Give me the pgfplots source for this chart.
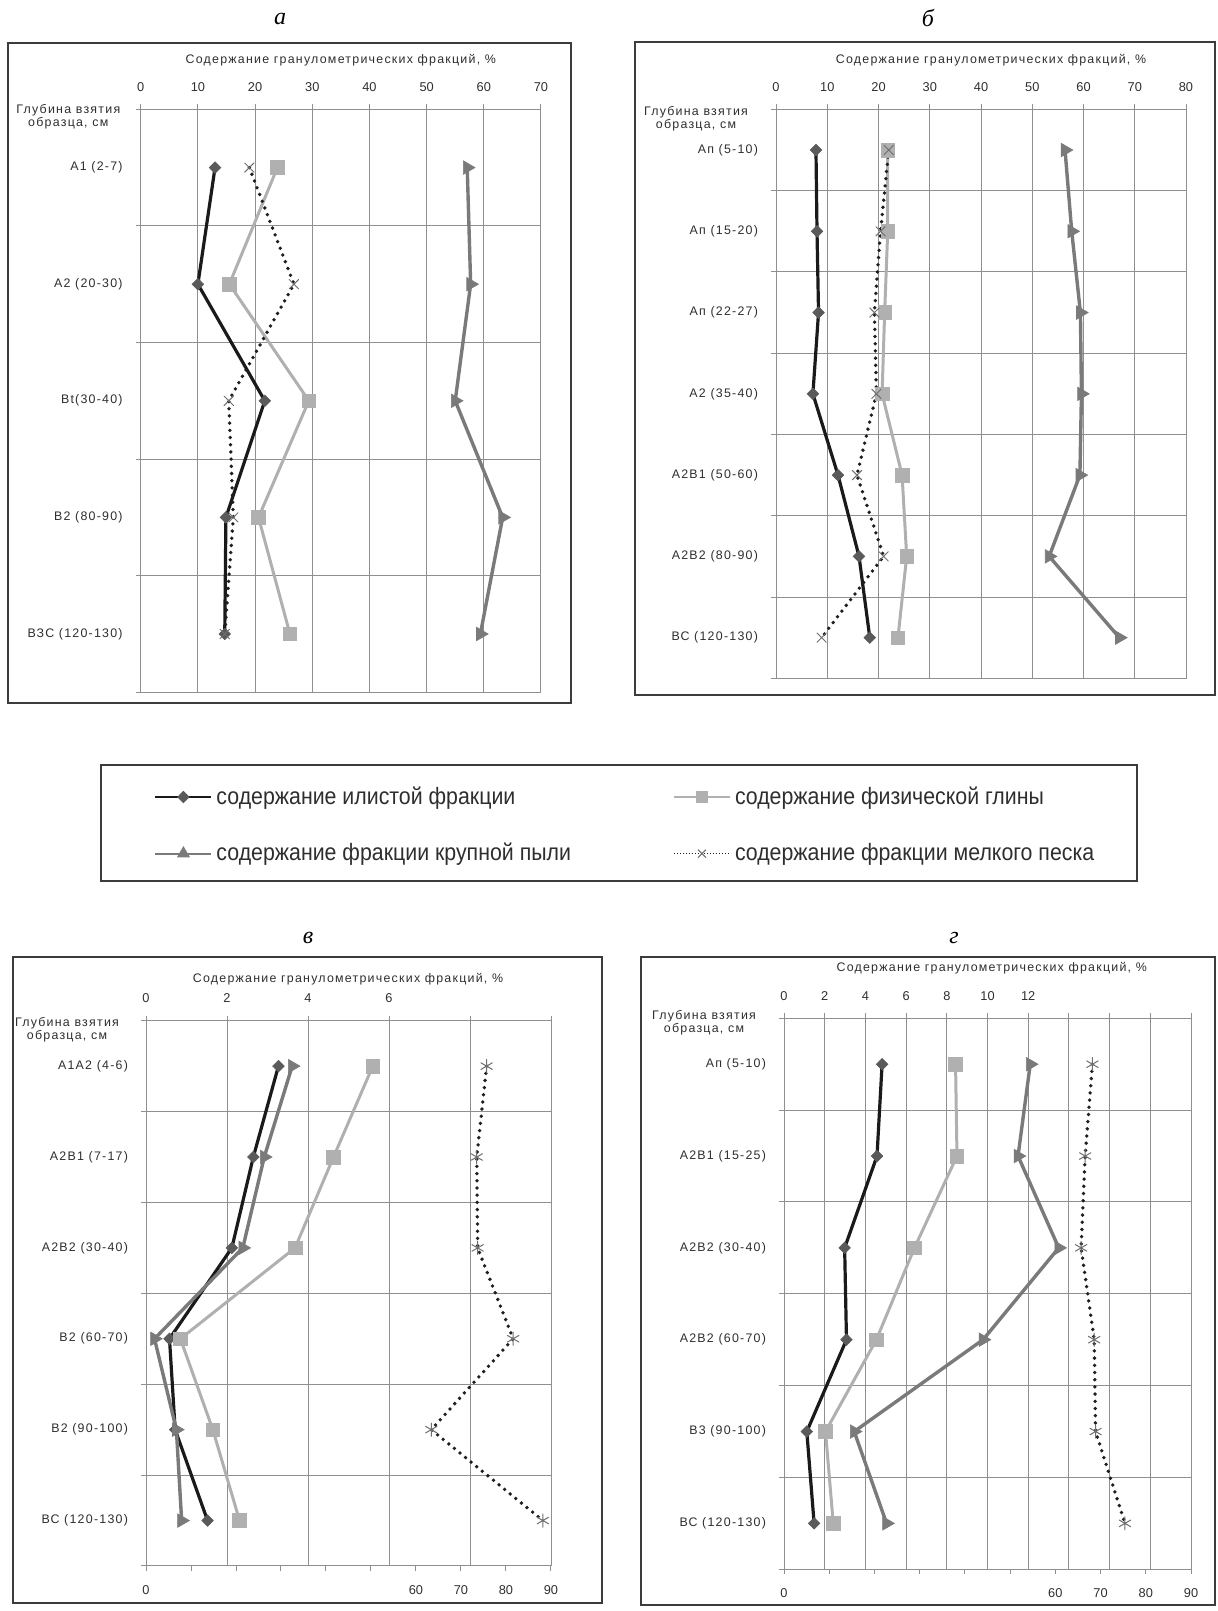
\documentclass[border=0pt]{standalone}
\usepackage{pgfplots}
\usepackage{pgfplotstable}
\pgfplotsset{compat=1.18}
\usepackage{fontspec}
\setmainfont{Liberation Sans}
\newfontfamily\chartfont[LetterSpace=10]{Liberation Sans}
\newfontfamily\numfont{Liberation Sans}
\newfontfamily\legendfont[FakeStretch=0.9]{Liberation Sans}
\newfontfamily\titlefont{Liberation Serif}
\definecolor{gridc}{HTML}{8F8F8F}
\definecolor{framec}{HTML}{3C3C3C}
\definecolor{labc}{HTML}{2E2E2E}
\definecolor{ilc}{HTML}{1A1A1A}
\definecolor{ilm}{HTML}{5A5A5A}
\definecolor{glc}{HTML}{B0B0B0}
\definecolor{pyc}{HTML}{7A7A7A}
\definecolor{pec}{HTML}{1E1E1E}
\definecolor{pem}{HTML}{6E6E6E}
\newcommand{\cf}{\chartfont\fontsize{6.2pt}{6.6pt}\selectfont}
\newcommand{\nf}{\numfont\fontsize{6.4pt}{7pt}\selectfont}

\pgfplotsset{
  panel/.style={
    scale only axis, anchor=north west, clip=false,
    axis line style={gridc, line width=0.5pt},
    grid style={gridc, line width=0.5pt},
    xmajorgrids, ymajorgrids,
    tick align=outside, major tick length=2.5pt,
    tick style={gridc, line width=0.5pt},
    xtick pos=right, xticklabel pos=right, ytick pos=left,
    y tick label as interval,
    xticklabel style={anchor=base, yshift=6.5pt, font=\nf, text=labc},
    yticklabel style={anchor=east, xshift=-3pt, font=\cf, text=labc},
    /pgf/number format/assume math mode=true,
  },
  botaxis/.style={
    scale only axis, anchor=north west, clip=false,
    xmin=0, xmax=90, axis x line*=bottom, hide y axis,
    axis line style={gridc, line width=0.5pt},
    x axis line style={-},
    tick align=outside, major tick length=2.5pt,
    tick style={gridc, line width=0.5pt},
    xtick={0,10,...,90}, xticklabels={0,{},{},{},{},{},60,70,80,90},
    xticklabel style={anchor=base, yshift=-11.7pt, font=\nf, text=labc},
  },
  il/.style={ilc, line width=1.6pt, mark=diamond*, mark size=2.9pt,
    mark options={fill=ilm, draw=ilm, line width=0.3pt, xscale=1.33}},
  gl/.style={glc, line width=1.5pt, mark=square*, mark size=3.4pt,
    mark options={fill=glc, draw=glc, line width=0.3pt}},
  py/.style={pyc, line width=1.7pt, mark=triangle*, mark size=3.9pt,
    mark options={fill=pyc, draw=pyc, line width=0.3pt, rotate=-90}},
  pe/.style={pec, line width=1.9pt, line cap=round, dash pattern=on 0pt off 3.6pt,
    mark=x, mark size=3.3pt, mark options={pem, solid, line width=0.5pt}},
  pes/.style={pec, line width=1.9pt, line cap=round, dash pattern=on 0pt off 3.6pt,
    mark=asterisk, mark size=3.3pt, mark options={pem, solid, line width=0.5pt}},
}

\pgfplotstableread{
y il gl py pe
4.5 13.0 23.9 57.1 19.0
3.5 10.0 15.5 57.7 26.8
2.5 21.7 29.4 55.0 15.4
1.5 14.9 20.6 63.3 16.2
0.5 14.7 26.1 59.4 14.7
}\dataA

\pgfplotstableread{
y il gl py pe
6.5 7.8 21.8 56.4 22.0
5.5 8.0 21.8 57.7 20.4
4.5 8.3 21.2 59.4 19.2
3.5 7.2 20.7 59.6 19.6
2.5 12.1 24.6 59.3 15.8
1.5 16.2 25.5 53.3 21.0
0.5 18.3 23.8 67.0 8.9
}\dataB

\pgfplotstableread{
y il gl py pe
5.5 3.27 5.60 3.61 75.7
4.5 2.65 4.63 2.92 73.5
3.5 2.12 3.68 2.39 73.7
2.5 0.58 0.85 0.21 81.6
1.5 0.72 1.65 0.75 63.4
0.5 1.52 2.31 0.88 88.2
}\dataV

\pgfplotstableread{
y il gl py pe
5.5 4.82 8.43 12.10 68.2
4.5 4.57 8.50 11.50 66.6
3.5 2.98 6.41 13.50 65.7
2.5 3.07 4.54 9.78 68.6
1.5 1.12 2.04 3.45 68.9
0.5 1.48 2.42 5.04 75.4
}\dataG

\begin{document}
\begin{tikzpicture}
\path[use as bounding box] (0,0) rectangle (609pt,805.5pt);

% frames
\draw[framec, line width=1pt] (3.75pt,454pt) rectangle (285.5pt,784pt);
\draw[framec, line width=1pt] (317.5pt,458pt) rectangle (607.5pt,784.5pt);
\draw[framec, line width=1pt] (6.35pt,4.15pt) rectangle (301pt,327pt);
\draw[framec, line width=1pt] (320.5pt,3pt) rectangle (607.5pt,327pt);
\draw[framec, line width=1pt] (50.5pt,365pt) rectangle (568.5pt,423pt);

% panel letters
\node[font=\titlefont\itshape\fontsize{12pt}{14pt}\selectfont] at (140pt,796.25pt) {а};
\node[font=\titlefont\itshape\fontsize{12pt}{14pt}\selectfont] at (464pt,796.25pt) {б};
\node[font=\titlefont\itshape\fontsize{12pt}{14pt}\selectfont] at (154pt,336.5pt) {в};
\node[font=\titlefont\itshape\fontsize{12pt}{14pt}\selectfont] at (477pt,336.5pt) {г};

% axis titles
\node[font=\cf, text=labc] at (170.4pt,775.5pt) {Содержание гранулометрических фракций, \%};
\node[font=\cf, text=labc] at (495.5pt,775.3pt) {Содержание гранулометрических фракций, \%};
\node[font=\cf, text=labc] at (174pt,316pt) {Содержание гранулометрических фракций, \%};
\node[font=\cf, text=labc] at (495.85pt,321.35pt) {Содержание гранулометрических фракций, \%};

% depth labels
\node[font=\cf, text=labc, align=center] at (34.15pt,747.2pt) {Глубина взятия\\образца, см};
\node[font=\cf, text=labc, align=center] at (348pt,746.25pt) {Глубина взятия\\образца, см};
\node[font=\cf, text=labc, align=center] at (33.5pt,290.6pt) {Глубина взятия\\образца, см};
\node[font=\cf, text=labc, align=center] at (352pt,294.1pt) {Глубина взятия\\образца, см};

% panel a
\begin{axis}[panel, at={(70.35pt,750.85pt)}, width=200.15pt, height=291.5pt,
  xmin=0, xmax=70, xtick={0,10,...,70}, ymin=0, ymax=5, ytick={0,...,5},
  yticklabels={ВЗС (120-130), В2 (80-90), Вt(30-40), А2 (20-30), А1 (2-7)}]
\addplot[il] table[x=il,y=y] {\dataA};
\addplot[gl] table[x=gl,y=y] {\dataA};
\addplot[py] table[x=py,y=y] {\dataA};
\addplot[pe] table[x=pe,y=y] {\dataA};
\end{axis}

% panel b
\begin{axis}[panel, at={(388pt,750.8pt)}, width=205pt, height=284.45pt,
  xmin=0, xmax=80, xtick={0,10,...,80}, ymin=0, ymax=7, ytick={0,...,7},
  yticklabels={ВС (120-130), А2В2 (80-90), А2В1 (50-60), А2 (35-40), Ап (22-27), Ап (15-20), Ап (5-10)}]
\addplot[il] table[x=il,y=y] {\dataB};
\addplot[gl] table[x=gl,y=y] {\dataB};
\addplot[py] table[x=py,y=y] {\dataB};
\addplot[pe] table[x=pe,y=y] {\dataB};
\end{axis}

% panel v
\begin{axis}[panel, at={(73pt,295.15pt)}, width=202.5pt, height=272.65pt,
  xmin=0, xmax=10, xtick={0,2,...,10}, xticklabels={0,2,4,6,{},{}},
  ymin=0, ymax=6, ytick={0,...,6},
  yticklabels={ВС (120-130), В2 (90-100), В2 (60-70), А2В2 (30-40), А2В1 (7-17), А1А2 (4-6)}]
\addplot[il] table[x=il,y=y] {\dataV};
\addplot[gl] table[x=gl,y=y] {\dataV};
\addplot[py] table[x=py,y=y] {\dataV};
\end{axis}
\begin{axis}[botaxis, at={(73pt,295.15pt)}, width=202.5pt, height=272.65pt, ymin=0, ymax=6]
\addplot[pes] table[x=pe,y=y] {\dataV};
\end{axis}

% panel g
\begin{axis}[panel, at={(392pt,296.35pt)}, width=203.5pt, height=275.5pt,
  xmin=0, xmax=20, xtick={0,2,...,20}, xticklabels={0,2,4,6,8,10,12,{},{},{},{}},
  ymin=0, ymax=6, ytick={0,...,6},
  yticklabels={ВС (120-130), В3 (90-100), А2В2 (60-70), А2В2 (30-40), А2В1 (15-25), Ап (5-10)}]
\addplot[il] table[x=il,y=y] {\dataG};
\addplot[gl] table[x=gl,y=y] {\dataG};
\addplot[py] table[x=py,y=y] {\dataG};
\end{axis}
\begin{axis}[botaxis, at={(392pt,296.35pt)}, width=203.5pt, height=275.5pt, ymin=0, ymax=6]
\addplot[pes] table[x=pe,y=y] {\dataG};
\end{axis}

% legend
\begin{axis}[hide axis, scale only axis, anchor=south west, at={(50.5pt,365pt)},
  width=518pt, height=58pt, xmin=0, xmax=1, ymin=0, ymax=1,
  legend columns=2, legend cell align=left,
  legend style={at={(0.0512,0.48)}, anchor=west, draw=none, fill=none, inner sep=0pt,
    font=\legendfont\fontsize{11.85pt}{13pt}\selectfont, text=labc,
    row sep=14pt, /tikz/column 2/.style={column sep=49pt}},
  legend image code/.code={\draw[mark repeat=2,mark phase=2,#1] plot coordinates {(0pt,0pt) (14pt,0pt) (28pt,0pt)};}]
\addlegendimage{ilc, line width=1pt, mark=diamond*, mark size=2.4pt, mark options={fill=ilm, draw=ilm, xscale=1.33}}
\addlegendentry{содержание илистой фракции}
\addlegendimage{glc, line width=1pt, mark=square*, mark size=2.4pt, mark options={fill=glc, draw=glc}}
\addlegendentry{содержание физической глины}
\addlegendimage{pyc, line width=1pt, mark=triangle*, mark size=2.8pt, mark options={fill=pyc, draw=pyc}}
\addlegendentry{содержание фракции крупной пыли}
\addlegendimage{pec, line width=0.6pt, dash pattern=on 0.6pt off 0.9pt, mark=x, mark size=2.8pt, mark options={pem, solid, line width=0.5pt}}
\addlegendentry{содержание фракции мелкого песка}
\end{axis}
\end{tikzpicture}
\end{document}
